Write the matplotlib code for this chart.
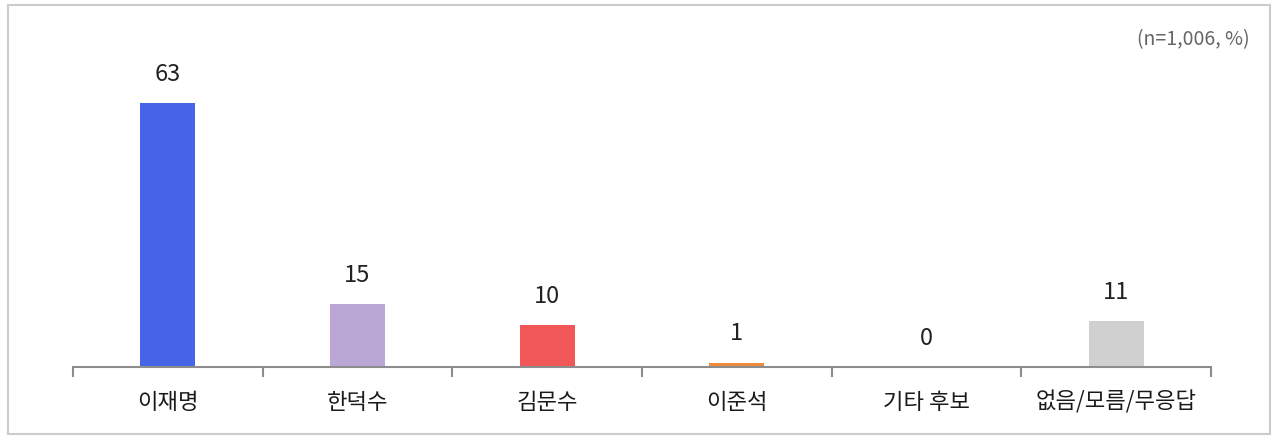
import matplotlib
matplotlib.use("Agg")
import matplotlib.pyplot as plt
from matplotlib.patches import Rectangle
import numpy as np

plt.rcParams["font.family"] = ["Noto Sans CJK KR", "DejaVu Sans"]

categories = ["이재명", "한덕수", "김문수", "이준석", "기타 후보", "없음/모름/무응답"]
values = [63, 15, 10, 1, 0, 11]
colors = ["#4664E6", "#BBA7D6", "#F25757", "#EE8A3C", "#D0D0D0", "#D0D0D0"]
note = "(n=1,006, %)"

fig = plt.figure(figsize=(12.8, 4.46), dpi=100)
fig.patches.append(Rectangle((8 / 1280, 1 - 434 / 446), 1262 / 1280, 429 / 446,
                             transform=fig.transFigure, fill=False,
                             edgecolor="#CCCCCC", linewidth=1.5))

ax = fig.add_axes([73 / 1280, 1 - 367 / 446, 1138 / 1280, 293 / 446])
x = np.arange(len(categories))
ax.bar(x, values, width=0.29, color=colors)
for xi, v in zip(x, values):
    ax.text(xi, v + 6.9, str(v), ha="center", va="center", fontsize=17, color="#222222")

ax.set_xlim(-0.5, len(categories) - 0.5)
ax.set_ylim(0, 70)
for side in ["top", "right", "left"]:
    ax.spines[side].set_visible(False)
ax.spines["bottom"].set_color("#8C8C8C")
ax.spines["bottom"].set_linewidth(1.5)
ax.set_yticks([])
ax.set_xticks(np.arange(-0.5, len(categories), 1.0))
ax.set_xticklabels([])
ax.set_xticks(x, minor=True)
ax.set_xticklabels(categories, minor=True, fontsize=16, color="#1A1A1A")
ax.tick_params(axis="x", which="major", length=7, width=1.5, color="#8C8C8C", direction="out")
ax.tick_params(axis="x", which="minor", length=0, pad=17)

fig.text(1250 / 1280, 1 - 40 / 446, note, ha="right", va="center", fontsize=14, color="#666666")

fig.savefig("out.png", dpi=100)
